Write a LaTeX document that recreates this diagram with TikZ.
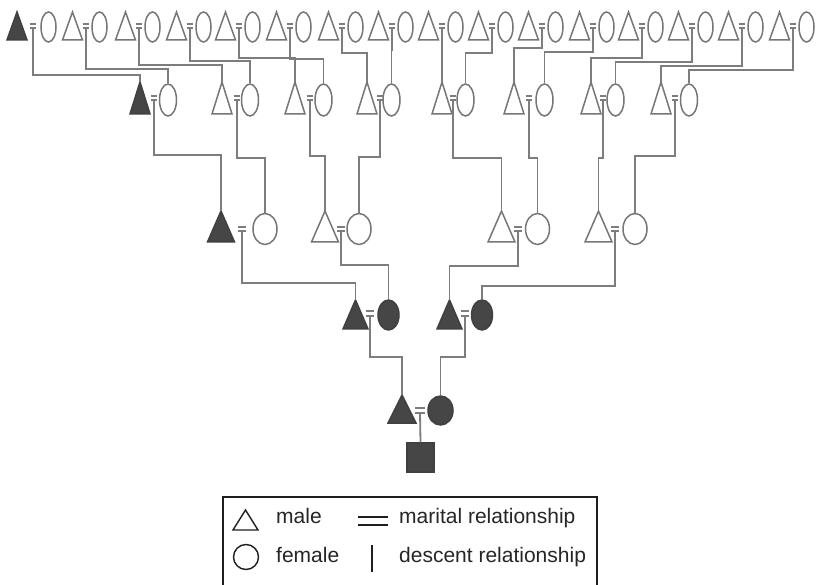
\documentclass[tikz,border=0pt]{standalone}
\usepackage{fontspec}
\setmainfont{Liberation Sans}
\usetikzlibrary{shapes.geometric}
\definecolor{lc}{RGB}{125,125,125}
\definecolor{oc}{RGB}{118,118,118}
\definecolor{fc}{RGB}{70,70,70}
\begin{document}
\begin{tikzpicture}[x=1pt,y=-1pt,
  shp/.style={draw=oc, line width=1.5pt, fill=white},
  dark/.style={fill=fc, draw=black!75},
  ln/.style={draw=lc, line width=1.8pt},
  lg/.style={draw=black!88, line width=1.2pt},
  lgtext/.style={anchor=base west, inner sep=0pt, text=black!85, font=\fontsize{21}{25}\selectfont}]
\useasboundingbox (0,0) rectangle (817,585);
\clip (0,0) rectangle (817,585);
\fill[white] (0,0) rectangle (817,585);

% couple macro: name, triangle apex x, marriage x, ellipse centre x, male style, female style
\newcommand\cpl[6]{%
  \coordinate (#1m) at (#2,\Ty);
  \draw[shp,#5] (#1m) -- ++(\Tw/2,\Th) -- ++(-\Tw,0) -- cycle;
  \node[shp,#6,ellipse,inner sep=0pt,minimum width={2*\Erx pt},minimum height={2*\Ery pt}] (#1f) at (#4,\Ecy) {};
  \draw[ln,line width=1.4pt] (#3-\Qw,\Qa) -- (#3+\Qw,\Qa) (#3-\Qw,\Qb) -- (#3+\Qw,\Qb);
  \coordinate (#1q) at (#3,\Qb);
}
% descent connector: from couple, to node, horizontal level
\newcommand\dsc[3]{\draw[ln] (#1q) -- (#1q |- 0,#3) -| (#2);}

% generation 1
\def\Ty{12}\def\Th{28}\def\Tw{20}\def\Ecy{27}\def\Erx{7.5}\def\Ery{15}\def\Qa{24}\def\Qb{28}\def\Qw{3}
\cpl{A1}{17}{33}{48.5}{dark}{}
\foreach \q [count=\i from 2] in {86,139,190,239,290,342,392,442,492,542,593,642,692,742,793}{\cpl{A\i}{\q-13.5}{\q}{\q+13.5}{}{}}

% generation 2
\def\Ty{82}\def\Th{32}\def\Tw{20}\def\Ecy{100}\def\Erx{8.5}\def\Ery{16}\def\Qa{96}\def\Qb{100}\def\Qw{3}
\cpl{B1}{140}{154}{168}{dark}{}
\cpl{B2}{222}{237}{250}{}{}
\cpl{B3}{295}{310}{323.5}{}{}
\cpl{B4}{367}{380}{391.5}{}{}
\cpl{B5}{442}{453}{465.5}{}{}
\cpl{B6}{514}{529}{544.5}{}{}
\cpl{B7}{591}{603}{615.5}{}{}
\cpl{B8}{661}{675}{689}{}{}

% generation 3
\def\Ty{211}\def\Th{31}\def\Tw{27}\def\Ecy{229}\def\Erx{12}\def\Ery{15.5}\def\Qa{227}\def\Qb{231}\def\Qw{4}
\cpl{C1}{221}{242}{265}{dark}{}
\cpl{C2}{325}{341}{359}{}{}
\cpl{C3}{501.5}{518}{537.5}{}{}
\cpl{C4}{598.5}{615}{635}{}{}

% generation 4
\def\Ty{300}\def\Th{29}\def\Tw{25}\def\Ecy{315}\def\Erx{10.5}\def\Ery{15}\def\Qa{311}\def\Qb{316}\def\Qw{4}
\cpl{D1}{355.5}{370}{388.5}{dark}{dark}
\cpl{D2}{449.5}{465}{482}{dark}{dark}

% generation 5
\def\Ty{395}\def\Th{28}\def\Tw{28}\def\Ecy{410.5}\def\Erx{12.5}\def\Ery{14.5}\def\Qa{408}\def\Qb{413}\def\Qw{5}
\cpl{E1}{402}{420}{440.5}{dark}{dark}

\node[shp,dark,minimum width=27pt,minimum height=29pt,inner sep=0pt] (kid) at (420.5,457.5) {};

% descent lines gen1 -> gen2
\dsc{A1}{B1m}{75}
\dsc{A2}{B1f.north}{69}
\dsc{A3}{B2m}{65}
\dsc{A4}{B2f.north}{61}
\dsc{A5}{B3m}{58}
\dsc{A6}{B3f.north}{59}
\dsc{A7}{B4m}{53}
\dsc{A8}{B4f.north}{50}
\dsc{A9}{B5m}{55}
\dsc{A10}{B5f.north}{53}
\dsc{A11}{B6m}{48}
\dsc{A12}{B6f.north}{52}
\dsc{A13}{B7m}{58}
\dsc{A14}{B7f.north}{62}
\dsc{A15}{B8m}{66}
\dsc{A16}{B8f.north}{70}
% gen2 -> gen3
\dsc{B1}{C1m}{155}
\dsc{B2}{C1f.north}{158}
\dsc{B3}{C2m}{156}
\dsc{B4}{C2f.north}{157}
\dsc{B5}{C3m}{158}
\dsc{B6}{C3f.north}{158}
\dsc{B7}{C4m}{158}
\dsc{B8}{C4f.north}{156}
% gen3 -> gen4
\dsc{C1}{D1m}{283}
\dsc{C2}{D1f.north}{265}
\dsc{C3}{D2m}{266}
\dsc{C4}{D2f.north}{286}
% gen4 -> gen5
\dsc{D1}{E1m}{357}
\dsc{D2}{E1f.north}{357}
% gen5 -> child
\draw[ln] (E1q) -- (kid.north);

% legend
\draw[lg] (223,592) -- (223,497) -- (597,497) -- (597,592);
\draw[lg,line width=1.4pt] (245.5,510) -- (258,530) -- (233,530) -- cycle;
\draw[lg,line width=1.4pt] (246,557) circle[radius=12.5];
\draw[lg,line width=1.6pt] (358,517) -- (388,517) (358,525) -- (388,525);
\draw[lg,line width=1.6pt] (372,545) -- (372,572);
\node[lgtext] (lmale) at (276,523) {male};
\node[lgtext] (lfemale) at (276,562) {female};
\node[lgtext] (lmar) at (399,523) {marital relationship};
\node[lgtext] (ldesc) at (399,562) {descent relationship};
\end{tikzpicture}
\end{document}
